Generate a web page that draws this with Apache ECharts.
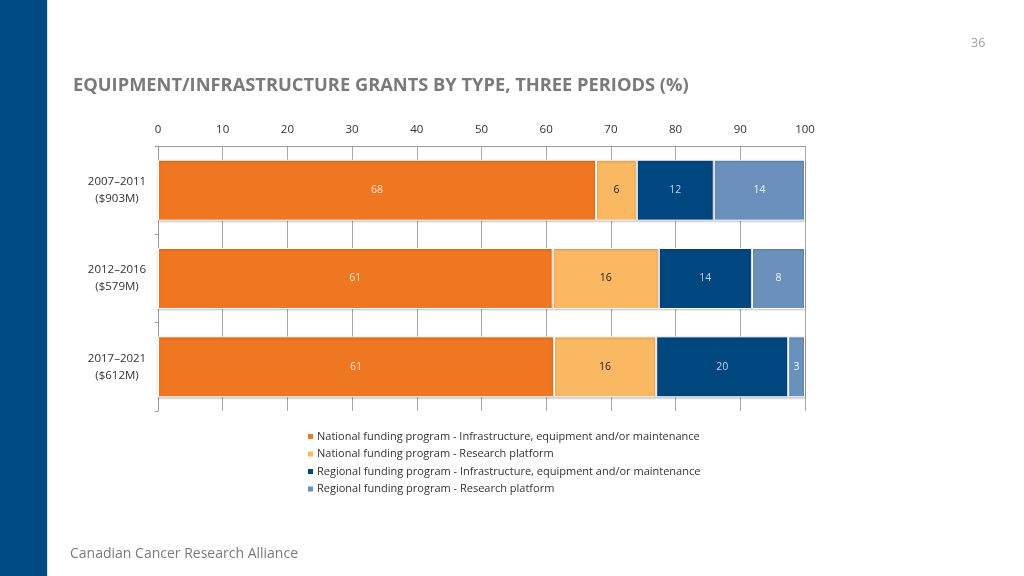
<!DOCTYPE html>
<html><head><meta charset="utf-8">
<script src="https://cdn.jsdelivr.net/npm/echarts@6/dist/echarts.min.js"></script>
<style>html,body{margin:0;padding:0;background:#fff}#c{width:1024px;height:576px}</style>
</head><body><div id="c"></div>
<script>
const categories = ['2007–2011\n($903M)', '2012–2016\n($579M)', '2017–2021\n($612M)'];
const seriesNames = [
  'National funding program - Infrastructure, equipment and/or maintenance',
  'National funding program - Research platform',
  'Regional funding program - Infrastructure, equipment and/or maintenance',
  'Regional funding program - Research platform'
];
const nationalInfra = [67.7, 61.0, 61.2];
const nationalPlatform = [6.3, 16.4, 15.8];
const regionalInfra = [11.9, 14.4, 20.4];
const regionalPlatform = [14.1, 8.2, 2.6];
const xTicks = [0, 10, 20, 30, 40, 50, 60, 70, 80, 90, 100];

const colors = ['#f07722', '#fbb863', '#00467f', '#6a91bb'];
const labelColors = ['#fde3c8', '#222222', '#b9d3ee', '#eef3f9'];
const values = [nationalInfra, nationalPlatform, regionalInfra, regionalPlatform];
const FONT = '"Open Sans", "Noto Sans", sans-serif';

const chart = echarts.init(document.getElementById('c'), null, {renderer: 'canvas'});
chart.setOption({
  animation: false,
  color: colors,
  title: {
    text: 'EQUIPMENT/INFRASTRUCTURE GRANTS BY TYPE, THREE PERIODS (%)',
    left: 68, top: 72,
    textStyle: {fontFamily: FONT, fontSize: 18.3, fontWeight: 'bold', color: '#7a7a7a'}
  },
  graphic: [
    {type: 'rect', left: 0, top: 0, shape: {width: 47, height: 576}, style: {fill: '#004a86'}},
    {type: 'rect', left: 47, top: 0, shape: {width: 1, height: 576}, style: {fill: '#cfe3f5'}},
    {type: 'text', left: 70, top: 547, style: {text: 'Canadian Cancer Research Alliance', font: '14px ' + FONT, fill: '#7a7a7a'}},
    {type: 'text', left: 971, top: 37, style: {text: '36', font: '12.5px ' + FONT, fill: '#a0a0a0'}}
  ],
  legend: {
    orient: 'vertical', left: 301, top: 426,
    itemWidth: 7, itemHeight: 7, itemGap: 6.5, icon: 'rect',
    textStyle: {fontFamily: FONT, fontSize: 11, color: '#333', padding: [0,0,0,-2]},
    data: seriesNames
  },
  grid: {left: 158, right: 219, top: 146, bottom: 165},
  xAxis: {
    type: 'value', position: 'top', min: 0, max: 100, interval: 10,
    axisLine: {show: true, lineStyle: {color: '#9a9a9a', width: 1}},
    axisTick: {show: false},
    splitLine: {show: true, lineStyle: {color: '#a8a8a8', width: 1}},
    axisLabel: {fontFamily: FONT, fontSize: 11.5, color: '#333', margin: 10,
      formatter: v => xTicks.includes(v) ? String(v) : ''}
  },
  yAxis: {
    type: 'category', inverse: true, data: categories,
    axisLine: {show: true, lineStyle: {color: '#9a9a9a'}},
    axisTick: {show: true, length: 3, lineStyle: {color: '#9a9a9a'}},
    axisLabel: {fontFamily: FONT, fontSize: 11.5, color: '#333', align: 'center', margin: 41, lineHeight: 17}
  },
  series: values.map((arr, i) => ({
    name: seriesNames[i], type: 'bar', stack: 'total', data: arr,
    barCategoryGap: '31%',
    itemStyle: {color: colors[i], borderColor: '#ffffff', borderWidth: 1,
      shadowColor: 'rgba(0,0,0,0.25)', shadowBlur: 2, shadowOffsetY: 1},
    label: {show: true, position: 'inside', fontFamily: FONT, fontSize: 10.5, color: labelColors[i],
      formatter: p => String(Math.round(p.value))}
  }))
});
</script></body></html>
